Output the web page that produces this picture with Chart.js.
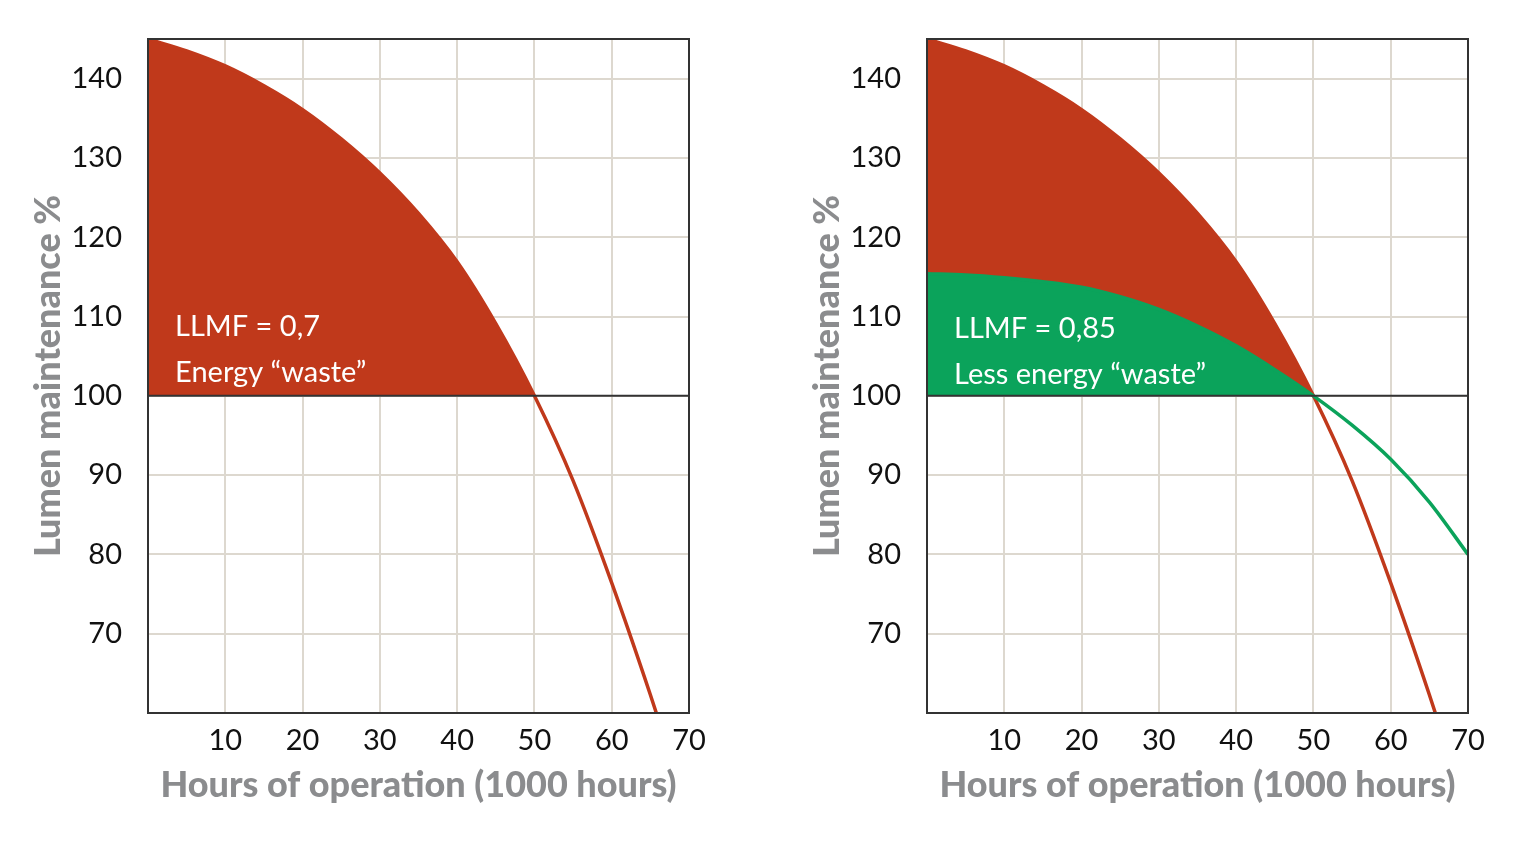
<!DOCTYPE html>
<html>
<head>
<meta charset="utf-8">
<script src="https://cdn.jsdelivr.net/npm/chart.js@4.4.0/dist/chart.umd.min.js"></script>
<style>
  html, body { margin: 0; padding: 0; background: #fff; }
  body { width: 1515px; height: 847px; position: relative; overflow: hidden; }
  .box { position: absolute; top: 0; height: 847px; }
  #leftBox { left: 0; width: 740px; }
  #rightBox { left: 779px; width: 736px; }
</style>
</head>
<body>
<div class="box" id="leftBox"><canvas id="chartLeft"></canvas></div>
<div class="box" id="rightBox"><canvas id="chartRight"></canvas></div>
<script>
// thousands of hours
const hoursRed = [0, 5, 10, 15, 20, 25, 30, 35, 40, 45, 50, 55, 60, 65, 66];
const lumenLLMF07 = [145, 143.5, 141.6, 139.1, 136.1, 132.4, 128.1, 123.0, 116.9, 109.1, 100, 89.3, 76.4, 62.3, 59.3];

const hoursGreen = [0, 5, 10, 15, 20, 25, 30, 35, 40, 45, 50, 55, 60, 65, 70];
const lumenLLMF085 = [115.4, 115.25, 114.9, 114.4, 113.7, 112.5, 110.9, 108.8, 106.3, 103.3, 100, 96.3, 92.0, 86.6, 80.0];

const xTicks = [10, 20, 30, 40, 50, 60, 70];
const yTicks = [70, 80, 90, 100, 110, 120, 130, 140];
const refLevel = 100;

const RED = "#c0391b";
const GREEN = "#0ba35b";
const GRID = "#ddd8cf";
const DARK = "#333333";
const TITLE_GRAY = "#8b8c8e";

function toPoints(xs, ys) {
    return xs.map((x, i) => ({ x: x, y: ys[i] }));
}

// frame + 100% line + white labels
function overlayPlugin(lines) {
    return {
        id: "overlay",
        afterDatasetsDraw(chart) {
            const { ctx, chartArea, scales } = chart;
            ctx.save();
            const y100 = scales.y.getPixelForValue(refLevel);
            ctx.strokeStyle = DARK;
            ctx.lineWidth = 2;
            ctx.beginPath();
            ctx.moveTo(chartArea.left, y100);
            ctx.lineTo(chartArea.right, y100);
            ctx.stroke();
            ctx.strokeRect(chartArea.left, chartArea.top, chartArea.right - chartArea.left, chartArea.bottom - chartArea.top);

            ctx.fillStyle = "#ffffff";
            ctx.font = "29px Lato";
            ctx.textBaseline = "alphabetic";
            ctx.textAlign = "left";
            lines.forEach(l => {
                ctx.fillText(l.text, scales.x.getPixelForValue(l.x), scales.y.getPixelForValue(l.y));
            });
            ctx.restore();
        }
    };
}

function makeChart(canvasId, datasets, lines, padRight) {
    const ctx = document.getElementById(canvasId).getContext("2d");
    return new Chart(ctx, {
        type: "line",
        data: { datasets: datasets },
        options: {
            responsive: true,
            maintainAspectRatio: false,
            animation: false,
            layout: { padding: { top: 39, right: padRight, left: 0, bottom: 0 } },
            plugins: { legend: { display: false }, tooltip: { enabled: false } },
            elements: { point: { radius: 0 } },
            scales: {
                x: {
                    type: "linear",
                    min: 0,
                    max: 70,
                    afterBuildTicks: s => { s.ticks = [0].concat(xTicks).map(v => ({ value: v })); },
                    afterFit: s => { s.height = 134; },
                    ticks: {
                        callback: v => (v === 0 ? "" : String(v)),
                        color: "#111",
                        font: { family: "Lato", size: 29 },
                        padding: 10,
                        maxRotation: 0,
                        autoSkip: false
                    },
                    grid: { color: GRID, lineWidth: 2, drawTicks: false },
                    border: { display: false },
                    title: {
                        display: true,
                        text: "Hours of operation (1000 hours)",
                        color: TITLE_GRAY,
                        font: { family: "Lato", size: 36, weight: "900" },
                        padding: { top: 0, bottom: 40 }
                    }
                },
                y: {
                    type: "linear",
                    min: 60,
                    max: 145,
                    afterBuildTicks: s => { s.ticks = [60].concat(yTicks).map(v => ({ value: v })); },
                    afterFit: s => { s.width = 148; s.paddingTop = 0; s.paddingBottom = 0; },
                    ticks: {
                        callback: v => (v === 60 ? "" : String(v)),
                        color: "#111",
                        font: { family: "Lato", size: 29 },
                        padding: 26,
                        autoSkip: false
                    },
                    grid: { color: GRID, lineWidth: 2, drawTicks: false },
                    border: { display: false },
                    title: {
                        display: true,
                        text: "Lumen maintenance %",
                        color: TITLE_GRAY,
                        font: { family: "Lato", size: 36, weight: "900" },
                        padding: { top: 27, bottom: 0 }
                    }
                }
            }
        },
        plugins: [overlayPlugin(lines)]
    });
}

function redSet() {
    return {
        label: "LLMF 0,7",
        data: toPoints(hoursRed, lumenLLMF07),
        borderColor: RED,
        borderWidth: 3.5,
        cubicInterpolationMode: "monotone",
        fill: { target: { value: refLevel }, above: RED, below: "rgba(0,0,0,0)" },
        order: 1
    };
}

makeChart("chartLeft", [redSet()], [
    { text: "LLMF = 0,7", x: 3.5, y: 107.5 },
    { text: "Energy \u201cwaste\u201d", x: 3.5, y: 101.8 }
], 51);

makeChart("chartRight", [
    {
        label: "LLMF 0,85",
        data: toPoints(hoursGreen, lumenLLMF085),
        borderColor: GREEN,
        borderWidth: 3.5,
        cubicInterpolationMode: "monotone",
        fill: { target: { value: refLevel }, above: GREEN, below: "rgba(0,0,0,0)" },
        order: 0
    },
    redSet()
], [
    { text: "LLMF = 0,85", x: 3.5, y: 107.3 },
    { text: "Less energy \u201cwaste\u201d", x: 3.5, y: 101.5 }
], 47);
</script>
</body>
</html>
